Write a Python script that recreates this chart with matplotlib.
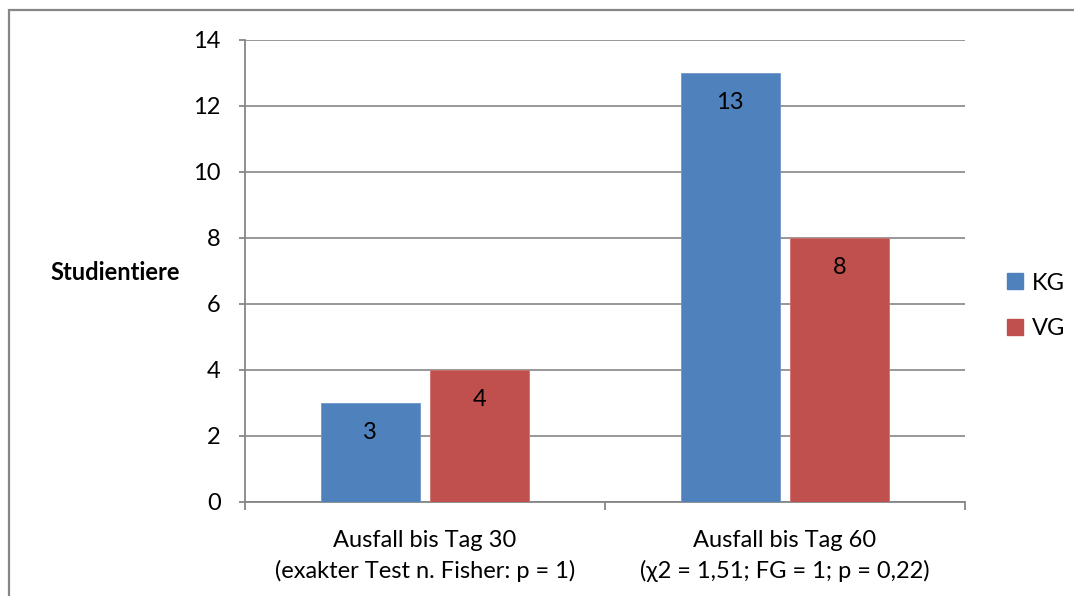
import matplotlib.pyplot as plt
from matplotlib.patches import Rectangle, Patch

plt.rcParams['font.family'] = ['Lato', 'DejaVu Sans']

kategorien = ['Ausfall bis Tag 30\n(exakter Test n. Fisher: p = 1)',
              'Ausfall bis Tag 60\n(\u03c72 = 1,51; FG = 1; p = 0,22)']
kg = [3, 13]
vg = [4, 8]
gruppen = ['KG', 'VG']
farben = ['#4F81BD', '#C0504D']
grau = '#868686'
fs = 17

fig = plt.figure(figsize=(10.74, 5.96), dpi=100)
ax = fig.add_axes([245/1074, 1-502/596, 720/1074, 462/596])

x = range(len(kategorien))
breite = 0.275
versatz = 0.152
b1 = ax.bar([i - versatz for i in x], kg, breite, color=farben[0], edgecolor='#6F97CB', linewidth=0.6, zorder=3)
b2 = ax.bar([i + versatz for i in x], vg, breite, color=farben[1], edgecolor='#CE716F', linewidth=0.6, zorder=3)

for bars in (b1, b2):
    for b in bars:
        ax.annotate(str(int(b.get_height())), (b.get_x() + b.get_width()/2, b.get_height()),
                    xytext=(0, -30), textcoords='offset pixels',
                    ha='center', va='center', fontsize=fs, zorder=4)

ax.set_xlim(-0.5, 1.5)
ax.set_ylim(0, 14)
ax.set_yticks(range(0, 15, 2))
ax.set_xticks([-0.5, 0.5, 1.5])
ax.set_xticklabels([])
ax.set_xticks([0, 1], minor=True)
ax.set_xticklabels(kategorien, minor=True, fontsize=fs, linespacing=1.5)
ax.tick_params(axis='x', which='minor', length=0, pad=20)
ax.tick_params(axis='x', which='major', length=6, width=1.3, color=grau)
ax.tick_params(axis='y', length=4.5, width=1.3, color=grau, pad=13, labelsize=fs)

ax.grid(axis='y', color=grau, linewidth=1.2, zorder=0)
for s in ['top', 'right']:
    ax.spines[s].set_visible(False)
for s in ['left', 'bottom']:
    ax.spines[s].set_color(grau)
    ax.spines[s].set_linewidth(1.3)

fig.text(115/1074, 1-272/596, 'Studientiere', ha='center', va='center',
         fontsize=fs, fontweight='bold')

handles = [Patch(color=c, label=g) for c, g in zip(farben, gruppen)]
fig.legend(handles=handles, loc='center left', bbox_to_anchor=(998/1074, 1-306/596),
           frameon=False, fontsize=fs, handlelength=0.65, handleheight=0.65,
           handletextpad=0.4, labelspacing=1.05, borderaxespad=0)

fig.patches.append(Rectangle((9/1074, -0.1), 1.2, 1.1 - 10/596, transform=fig.transFigure,
                             fill=False, edgecolor=grau, linewidth=1.6))

fig.savefig('out.png', dpi=100)
